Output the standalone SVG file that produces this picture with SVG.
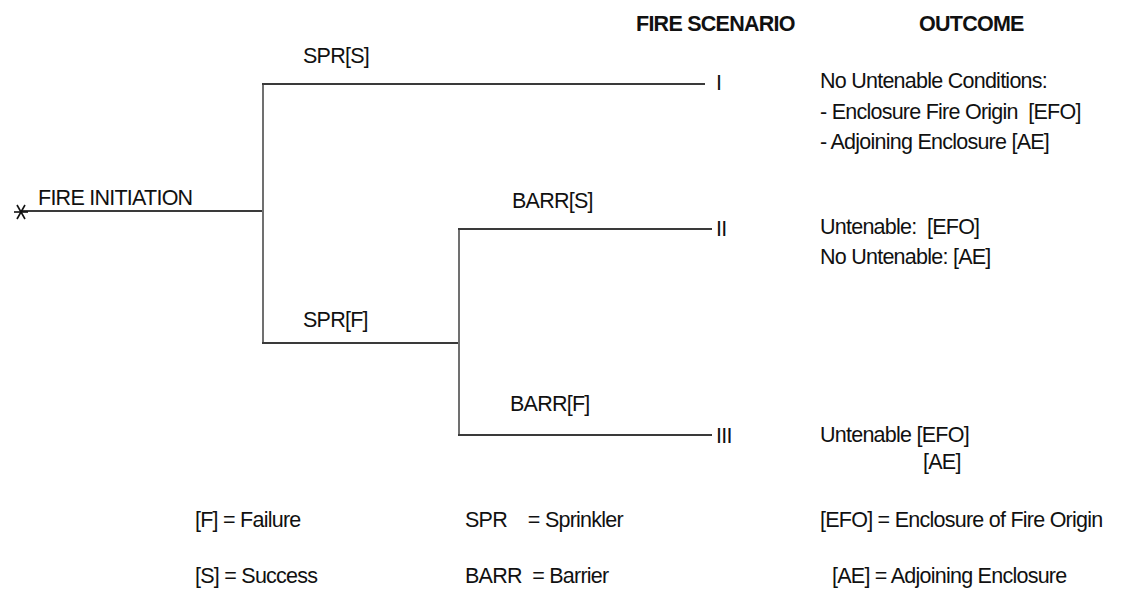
<svg xmlns="http://www.w3.org/2000/svg" width="1124" height="590" viewBox="0 0 1124 590">
<style>
text{font-family:"Liberation Sans",Arial,sans-serif;font-size:21.5px;letter-spacing:-0.75px;fill:#111}
.b{font-weight:bold}
.ln{stroke:#3a3a3a;stroke-width:2;fill:none}
.vl{stroke:#707070;stroke-width:2;fill:none}
</style>
<rect width="1124" height="590" fill="#fff"/>
<g id="connectors">
<line class="ln" x1="21" y1="211" x2="263" y2="211"/>
<line class="vl" x1="263" y1="83" x2="263" y2="344"/>
<line class="ln" x1="262" y1="84" x2="705" y2="84"/>
<line class="ln" x1="262" y1="343" x2="460" y2="343"/>
<line class="vl" x1="459" y1="228" x2="459" y2="436"/>
<line class="ln" x1="458" y1="229" x2="712" y2="229"/>
<line class="ln" x1="458" y1="435" x2="712" y2="435"/>
</g>
<g id="start" stroke="#111" stroke-width="1.6">
<line x1="14" y1="212" x2="28" y2="212"/>
<line x1="17" y1="205" x2="25" y2="219"/>
<line x1="25" y1="205" x2="17" y2="219"/>
</g>
<g id="fire-initiation"><text x="38" y="205">FIRE INITIATION</text></g>
<g id="spr-s"><text x="303" y="63">SPR[S]</text></g>
<g id="spr-f"><text x="303" y="327">SPR[F]</text></g>
<g id="barr-s"><text x="512" y="208">BARR[S]</text></g>
<g id="barr-f"><text x="510" y="411">BARR[F]</text></g>
<g id="headers">
<text class="b" x="636" y="31">FIRE SCENARIO</text>
<text class="b" x="919" y="31">OUTCOME</text>
</g>
<g id="scenario-1">
<text x="716" y="90">I</text>
<text x="820" y="88">No Untenable Conditions:</text>
<text x="820" y="119" xml:space="preserve">- Enclosure Fire Origin  [EFO]</text>
<text x="820" y="149">- Adjoining Enclosure [AE]</text>
</g>
<g id="scenario-2">
<text x="716" y="236">II</text>
<text x="820" y="234" xml:space="preserve">Untenable:  [EFO]</text>
<text x="820" y="264">No Untenable: [AE]</text>
</g>
<g id="scenario-3">
<text x="716" y="443">III</text>
<text x="820" y="442">Untenable [EFO]</text>
<text x="923" y="469">[AE]</text>
</g>
<g id="legend">
<text x="195" y="527">[F] = Failure</text>
<text x="195" y="583">[S] = Success</text>
<text x="465" y="527" xml:space="preserve">SPR    = Sprinkler</text>
<text x="465" y="583" xml:space="preserve">BARR  = Barrier</text>
<text x="820" y="527">[EFO] = Enclosure of Fire Origin</text>
<text x="832" y="583">[AE] = Adjoining Enclosure</text>
</g>
</svg>
